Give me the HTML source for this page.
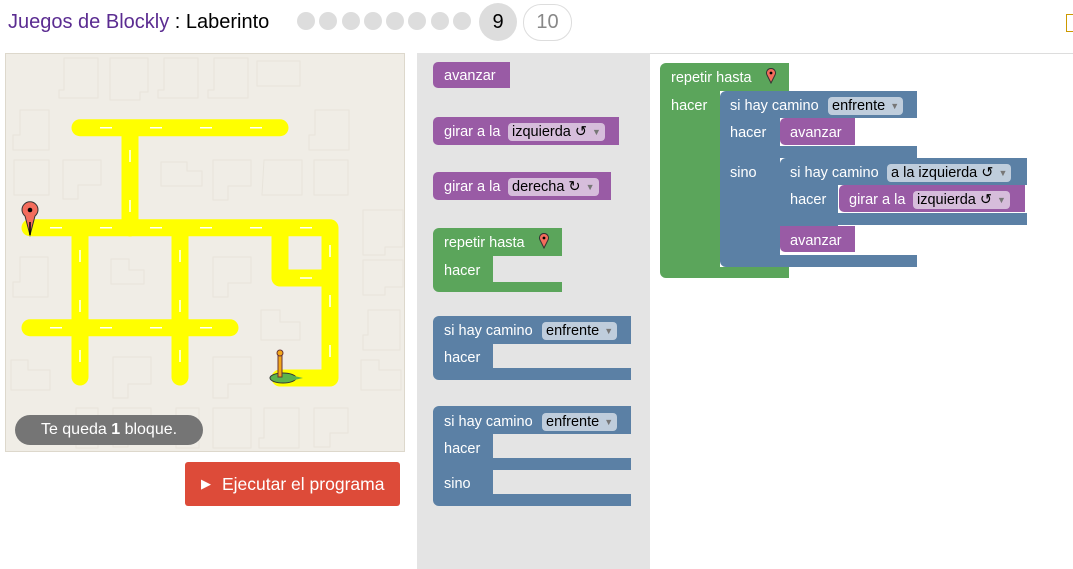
<!DOCTYPE html>
<html><head><meta charset="utf-8"><style>
body{margin:0;width:1073px;height:569px;overflow:hidden;background:#fff;font-family:"Liberation Sans",sans-serif;position:relative}
.a{position:absolute}
.p{background:#995ba5}.g{background:#5ba55b}.u{background:#5b80a5}
.t{position:absolute;color:#fff;font-size:14.5px;white-space:nowrap;margin-top:2px}
.f{position:absolute;border-radius:4px;color:#000;font-size:14.5px;padding:0 4px;height:18px;line-height:18px;white-space:nowrap;margin-top:1px}
.fp{background:#d6bddb}.fu{background:#bfcddc}
.dd{color:#777;font-size:9px;margin-left:5px;vertical-align:1px}
.dot{position:absolute;top:12px;width:18px;height:18px;border-radius:50%;background:#ddd}
</style></head><body>
<div class="a" style="left:8px;top:11px;font-size:20px;color:#000"><span style="color:#5b2c91">Juegos de Blockly</span> : Laberinto</div>
<div class="dot" style="left:297px"></div><div class="dot" style="left:319px"></div><div class="dot" style="left:342px"></div><div class="dot" style="left:364px"></div><div class="dot" style="left:386px"></div><div class="dot" style="left:408px"></div><div class="dot" style="left:431px"></div><div class="dot" style="left:453px"></div>
<div class="a" style="left:479px;top:3px;width:38px;height:38px;border-radius:50%;background:#ddd;text-align:center;line-height:38px;font-size:20px">9</div>
<div class="a" style="left:523px;top:4px;width:47px;height:35px;border-radius:18px;border:1px solid #ddd;text-align:center;line-height:35px;font-size:20px;color:#888">10</div>
<div class="a" style="left:1066px;top:14px;width:8px;height:16px;border:1px solid #c90;border-right:none"></div>
<div class="a" style="left:417px;top:53px;width:233px;height:516px;background:#e4e4e4"></div>
<div class="a" style="left:650px;top:53px;width:423px;height:1px;background:#ddd"></div>

<svg class="a" style="left:5px;top:53px" width="401" height="400" viewBox="5 53 401 400">
<rect x="5.5" y="53.5" width="399" height="398" fill="#f0ede6" stroke="#ddd8cc"/>
<g fill="none" stroke="#e8e4db" stroke-width="1">
<path d="M64 58h34v40H59v-8h5zM110 58h38v34h-8v8h-30zM164 58h34v40h-40v-8h6zM214 58h34v40h-40v-8h6zM257 61h43v25h-43z"/>
<path d="M20 110h29v40H13v-15h7zM315 110h34v40h-40v-15h6zM14 160h35v35H14zM63 160h38v25h-23v14h-15zM161 162h26v9h15v15h-41zM213 160h38v26h-23v14h-15zM264 160h38v35h-40zM314 160h34v35h-34z"/>
<path d="M363 210h40v37h-18v8h-22zM363 260h40v27h-18v8h-22zM20 257h28v40H13v-15h7zM111 259h18v11h15v14h-33zM213 257h38v26h-23v14h-15zM261 310h19v12h20v18h-39zM368 310h32v40h-37v-15h5zM11 360h17v10h22v20H11zM113 357h38v27h-23v14h-15zM213 357h38v27h-23v14h-15zM361 360h18v10h22v20h-40z"/>
<path d="M76 408h22v40H76zM113 408h38v25h-23v14h-15zM176 408h23v40h-23zM213 408h38v40h-38zM264 408h35v40h-40v-10h5zM314 408h34v25h-18v14h-16z"/>
</g>
<g fill="none" stroke="#ff0" stroke-width="17" stroke-linecap="round" stroke-linejoin="round">
<path d="M80 127.7H280M130 127.7V228M30 227.7H330V378H280M80 228V377M180 228V377M30 327.7H230M280 228V278H330"/>
</g>
<g fill="none" stroke="#fff" stroke-width="1.5" stroke-dasharray="12 38">
<path d="M100 127.7H288M130 150V228M50 227.7H330M330 245V378M80 250V385M180 250V385M50 327.7H238M300 278H330"/>
</g>
<path d="M30 235L25 216A8 8 0 1 1 35 216Z" fill="#f36c5c" stroke="#333"/><circle cx="30" cy="210" r="2.3" fill="#000"/><line x1="30" y1="222" x2="30" y2="235" stroke="#000" stroke-width="1.5"/>
<ellipse cx="283" cy="378" rx="13" ry="5" fill="#5cb34d" stroke="#333"/><path d="M290 375l13 3-13 3z" fill="#5cb34d"/>
<rect x="278" y="352" width="4" height="25" fill="#f3a71a" stroke="#633"/><circle cx="280" cy="353" r="3" fill="#f3a71a" stroke="#633"/>
</svg>
<div class="a" style="left:15px;top:415px;width:188px;height:30px;border-radius:15px;background:#757575;color:#fff;font-size:16px;line-height:30px;text-align:center">Te queda <b>1</b> bloque.</div>
<div class="a" style="left:185px;top:462px;width:215px;height:44px;border-radius:3px;background:#dd4b39;color:#fff;font-size:17.5px;line-height:44px"><span style="position:absolute;left:16px;font-size:13px">&#9654;</span><span style="position:absolute;left:37px">Ejecutar el programa</span></div>

<!-- toolbox -->
<div class="a p" style="left:433px;top:62px;width:77px;height:26px;border-radius:5px 0 0 5px"></div><div class="t" style="left:444px;top:66px">avanzar</div>
<div class="a p" style="left:433px;top:117px;width:186px;height:28px;border-radius:5px 0 0 5px"></div><div class="t" style="left:444px;top:122px">girar a la</div><div class="f fp" style="left:508px;top:122px">izquierda ↺<span class="dd">▼</span></div>
<div class="a p" style="left:433px;top:172px;width:178px;height:28px;border-radius:5px 0 0 5px"></div><div class="t" style="left:444px;top:177px">girar a la</div><div class="f fp" style="left:508px;top:177px">derecha ↻<span class="dd">▼</span></div>

<div class="a g" style="left:433px;top:228px;width:129px;height:28px;border-radius:6px 0 0 0"></div>
<div class="a g" style="left:433px;top:256px;width:60px;height:36px;border-radius:0 0 0 6px"></div>
<div class="a g" style="left:493px;top:282px;width:69px;height:10px"></div>
<div class="t" style="left:444px;top:233px">repetir hasta</div><div class="t" style="left:444px;top:261px">hacer</div>
<svg class="a" style="left:538px;top:233px" width="12" height="16"><path d="M6 15L2 7A4.5 4.5 0 1 1 10 7Z" fill="#f36c5c" stroke="#333"/><circle cx="6" cy="5" r="1.4"/></svg>

<div class="a u" style="left:433px;top:316px;width:198px;height:28px;border-radius:6px 0 0 0"></div>
<div class="a u" style="left:433px;top:344px;width:60px;height:36px;border-radius:0 0 0 6px"></div>
<div class="a u" style="left:493px;top:368px;width:138px;height:12px"></div>
<div class="t" style="left:444px;top:321px">si hay camino</div><div class="f fu" style="left:542px;top:321px">enfrente<span class="dd">▼</span></div><div class="t" style="left:444px;top:348px">hacer</div>

<div class="a u" style="left:433px;top:406px;width:198px;height:28px;border-radius:6px 0 0 0"></div>
<div class="a u" style="left:433px;top:434px;width:60px;height:72px;border-radius:0 0 0 6px"></div>
<div class="a u" style="left:493px;top:458px;width:138px;height:12px"></div>
<div class="a u" style="left:493px;top:494px;width:138px;height:12px"></div>
<div class="t" style="left:444px;top:412px">si hay camino</div><div class="f fu" style="left:542px;top:412px">enfrente<span class="dd">▼</span></div><div class="t" style="left:444px;top:439px">hacer</div><div class="t" style="left:444px;top:474px">sino</div>

<!-- workspace -->
<div class="a g" style="left:660px;top:63px;width:129px;height:28px;border-radius:6px 0 0 0"></div>
<div class="a g" style="left:660px;top:91px;width:60px;height:187px;border-radius:0 0 0 6px"></div>
<div class="a g" style="left:720px;top:267px;width:69px;height:11px"></div>
<div class="t" style="left:671px;top:68px">repetir hasta</div><div class="t" style="left:671px;top:96px">hacer</div>
<svg class="a" style="left:765px;top:68px" width="12" height="16"><path d="M6 15L2 7A4.5 4.5 0 1 1 10 7Z" fill="#f36c5c" stroke="#333"/><circle cx="6" cy="5" r="1.4"/></svg>

<div class="a u" style="left:720px;top:91px;width:197px;height:27px;border-radius:6px 0 0 0"></div>
<div class="a u" style="left:720px;top:118px;width:60px;height:149px;border-radius:0 0 0 6px"></div>
<div class="a u" style="left:780px;top:146px;width:137px;height:12px"></div>
<div class="a u" style="left:780px;top:255px;width:137px;height:12px"></div>
<div class="t" style="left:730px;top:96px">si hay camino</div><div class="f fu" style="left:828px;top:96px">enfrente<span class="dd">▼</span></div>
<div class="t" style="left:730px;top:123px">hacer</div><div class="t" style="left:730px;top:163px">sino</div>

<div class="a p" style="left:780px;top:118px;width:75px;height:27px;border-radius:5px 0 0 5px"></div><div class="t" style="left:790px;top:123px">avanzar</div>

<div class="a u" style="left:780px;top:158px;width:247px;height:27px;border-radius:6px 0 0 0"></div>
<div class="a u" style="left:780px;top:185px;width:58px;height:41px"></div>
<div class="a u" style="left:838px;top:213px;width:189px;height:12px"></div>
<div class="t" style="left:790px;top:163px">si hay camino</div><div class="f fu" style="left:887px;top:163px">a la izquierda ↺<span class="dd">▼</span></div>
<div class="t" style="left:790px;top:190px">hacer</div>
<div class="a p" style="left:839px;top:185px;width:186px;height:27px;border-radius:5px 0 0 5px"></div><div class="t" style="left:849px;top:190px">girar a la</div><div class="f fp" style="left:913px;top:190px">izquierda ↺<span class="dd">▼</span></div>

<div class="a p" style="left:780px;top:226px;width:75px;height:26px;border-radius:0 0 0 5px"></div><div class="t" style="left:790px;top:231px">avanzar</div>
</body></html>
